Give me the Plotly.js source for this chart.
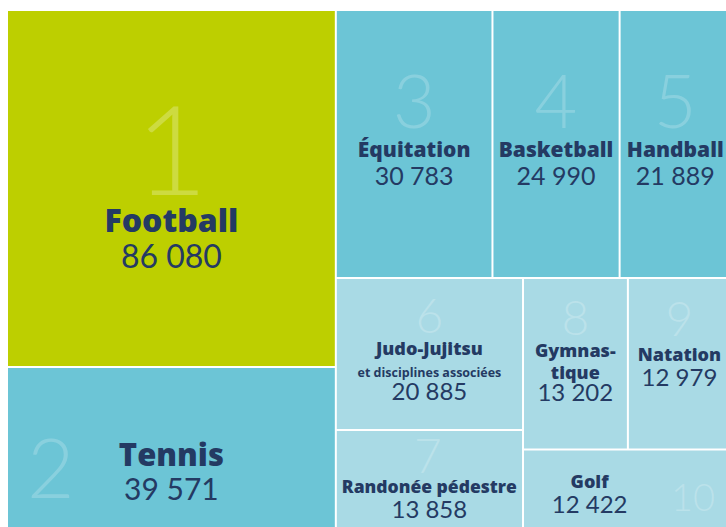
<!DOCTYPE html>
<html>
<head>
<meta charset="utf-8">
<script src="https://cdn.plot.ly/plotly-3.0.1.min.js"></script>
<style>
  html, body { margin: 0; padding: 0; overflow: hidden; background: #ffffff; }
  #chart { width: 738px; height: 540px; }
</style>
</head>
<body>
<div id="chart"></div>
<script>
// ---- data ----
const sports = ['Football', 'Tennis', 'Équitation', 'Basketball', 'Handball',
                'Judo-Jujitsu', 'Randonée pédestre', 'Gymnastique', 'Natation', 'Golf'];
const displayLabels = ['Football', 'Tennis', 'Équitation', 'Basketball', 'Handball',
                'Judo-Jujitsu', 'Randonée pédestre', 'Gymnas-<br>tique', 'Natation', 'Golf'];
const subtitles = ['', '', '', '', '', 'et disciplines associées', '', '', '', ''];
const licences = [86080, 39571, 30783, 24990, 21889, 20885, 13858, 13202, 12979, 12422];
const ranks = ['1', '2', '3', '4', '5', '6', '7', '8', '9', '10'];
// layout groups of the treemap (slice-dice nesting)
const leafParents = ['A', 'A', 'top', 'top', 'top', 'left', 'left', 'gymnat', 'gymnat', 'right'];
const groupIds = ['root', 'A', 'B', 'top', 'bottom', 'left', 'right', 'gymnat'];
const groupParents = ['', 'root', 'root', 'B', 'B', 'bottom', 'bottom', 'right'];

// ---- styles ----
const LIME = '#BDCF00', CYAN = '#6CC5D6', LIGHT = '#A9DAE5', NAVY = '#243A63';
const tileColours = [LIME, CYAN, CYAN, CYAN, CYAN, LIGHT, LIGHT, LIGHT, LIGHT, LIGHT];
const rankAlpha = [0.25, 0.2, 0.2, 0.2, 0.2, 0.22, 0.22, 0.22, 0.22, 0.22];
const LABELFONT = 'Open Sans';
// per-tile typography: base (line spacing), rank, label, value sizes; spacers before/after
const tileStyle = [
  {base: 28, rank: 125, label: 32, value: 32, post: [1]},
  {base: 26, rank: 82,  label: 31, value: 30, pre: [42], annot: {x: 0.0596, y: 0.1237}},
  {base: 22, rank: 74,  label: 21, value: 25, post: [87]},
  {base: 22, rank: 74,  label: 21, value: 25, post: [87]},
  {base: 22, rank: 74,  label: 21, value: 25, post: [87]},
  {base: 17, rank: 48,  label: 18, value: 24, sub: 12.5, post: [1]},
  {base: 19, rank: 48,  label: 17.5, value: 24, pre: [30], annot: {x: 0.5824, y: 0.146}},
  {base: 17, rank: 48,  label: 18, value: 24, post: [77]},
  {base: 19, rank: 48,  label: 18, value: 24, post: [1, 13]},
  {base: 19, rank: 38,  label: 18, value: 24, pre: [1], padRight: 16, annot: {x: 0.9488, y: 0.0655}}
];

function fmt(v) { return String(v).replace(/\B(?=(\d{3})+(?!\d))/g, ' '); }
function spacer(h) { return '<span style="font-size:' + h + 'px;color:rgba(0,0,0,0)">.</span>'; }

const ids = [], parents = [], labels = [], values = [], texts = [], colours = [], sizes = [];
groupIds.forEach((g, i) => {
  ids.push(g); parents.push(groupParents[i]); labels.push(g); values.push(0);
  texts.push(''); colours.push('#ffffff'); sizes.push(12);
});
const annotations = [];
sports.forEach((s, i) => {
  const st = tileStyle[i];
  const rankCol = 'rgba(255,255,255,' + rankAlpha[i] + ')';
  ids.push(s); parents.push(leafParents[i]); labels.push(s); values.push(licences[i]);
  colours.push(tileColours[i]); sizes.push(st.base);
  const pad = st.padRight ? '<span style="font-family:' + LABELFONT + ';font-size:18px">' + '&nbsp;'.repeat(st.padRight) + '</span>' : '';
  const lines = [];
  (st.pre || []).forEach(h => lines.push(spacer(h)));
  if (st.annot) {
    annotations.push({
      text: ranks[i], xref: 'paper', yref: 'paper', x: st.annot.x, y: st.annot.y,
      showarrow: false, xanchor: 'center', yanchor: 'middle',
      font: {family: 'Lato', size: st.rank, weight: 300, color: rankCol}
    });
  } else {
    lines.push('<span style="font-size:' + st.rank + 'px;font-weight:300;color:' + rankCol + '">' + ranks[i] + '</span>');
  }
  const lab = '<span style="font-family:' + LABELFONT + ';font-size:' + st.label + 'px;font-weight:800">';
  displayLabels[i].split('<br>').forEach(part => lines.push(lab + part + '</span>' + pad));
  if (subtitles[i]) {
    lines.push('<span style="font-family:' + LABELFONT + ';font-size:' + st.sub + 'px;font-weight:700">' + subtitles[i] + '</span>');
  }
  lines.push('<span style="font-size:' + st.value + 'px">' + fmt(licences[i]) + '</span>' + pad);
  (st.post || []).forEach(h => lines.push(spacer(h)));
  texts.push(lines.join('<br>'));
});

const trace = {
  type: 'treemap',
  ids: ids, parents: parents, labels: labels, values: values,
  text: texts,
  texttemplate: '%{text}',
  textposition: 'middle center',
  branchvalues: 'remainder',
  sort: false,
  tiling: {packing: 'slice-dice', pad: 2},
  marker: {colors: colours, line: {width: 0}, pad: {t: 0, l: 0, r: 0, b: 0}},
  leaf: {opacity: 1},
  pathbar: {visible: false},
  textfont: {family: 'Lato', size: sizes, color: NAVY},
  hoverinfo: 'skip'
};

const layout = {
  width: 738, height: 540,
  margin: {l: 8, r: 8, t: 11, b: 10},
  paper_bgcolor: '#ffffff',
  showlegend: false,
  annotations: annotations
};

Plotly.newPlot('chart', [trace], layout, {staticPlot: true, displayModeBar: false});
</script>
</body>
</html>
